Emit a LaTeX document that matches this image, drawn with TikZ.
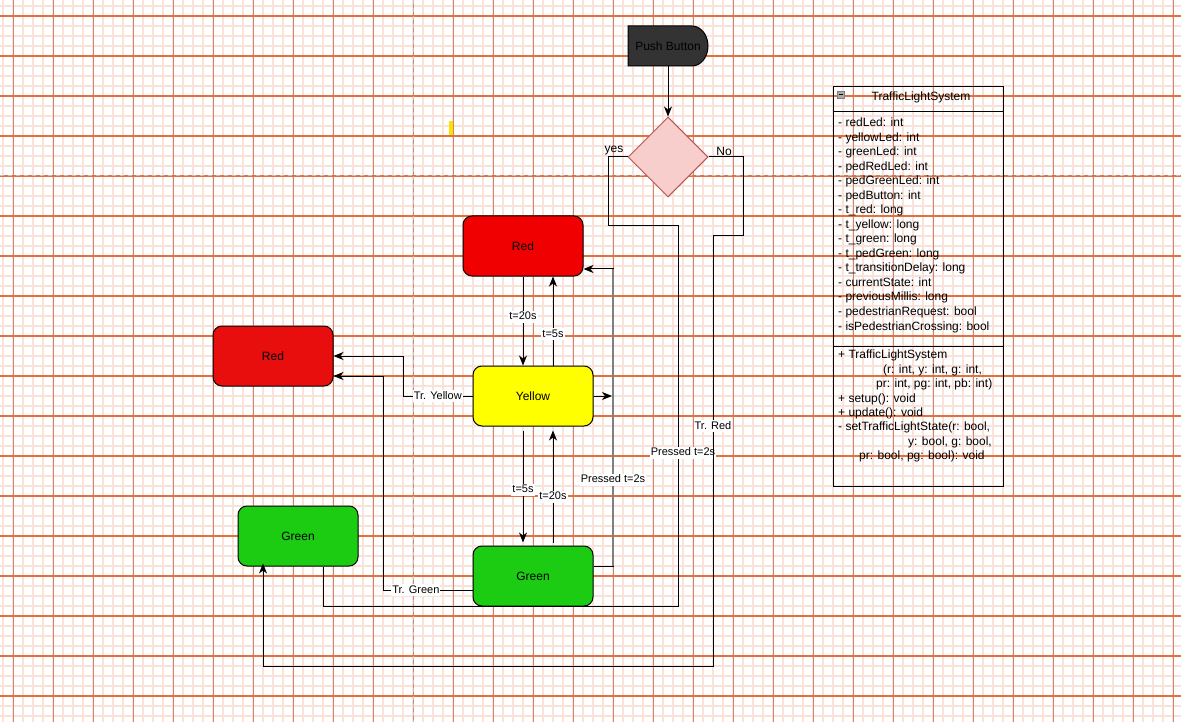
\documentclass[tikz,border=0pt]{standalone}
\usepackage{fontspec}
\setmainfont{Liberation Sans}
\usetikzlibrary{arrows.meta,shapes.geometric,calc}

\definecolor{gridminor}{RGB}{249,226,218}
\definecolor{gridmajorv}{RGB}{208,135,112}
\definecolor{gridmajorh}{RGB}{230,112,60}
\definecolor{pagebreak}{RGB}{190,190,190}
\definecolor{redA}{RGB}{240,0,0}
\definecolor{redB}{RGB}{232,14,14}
\definecolor{yellowA}{RGB}{255,255,0}
\definecolor{greenA}{RGB}{27,204,19}
\definecolor{pushfill}{RGB}{51,51,51}
\definecolor{decfill}{RGB}{248,206,204}
\definecolor{decline}{RGB}{184,84,80}
\definecolor{markyellow}{RGB}{255,224,0}
\definecolor{pressline}{RGB}{128,128,128}
\definecolor{iconfill}{RGB}{170,170,170}

\begin{document}
\begin{tikzpicture}[x=1pt,y=-1pt,
  font=\fontsize{12}{14}\selectfont,
  state/.style={draw=black, line width=1pt, rounded corners=9pt,
    minimum width=120pt, minimum height=60pt, inner sep=0pt},
  wire/.style={draw=black, line width=1pt},
  arr/.style={wire, -{Stealth[length=10pt,width=8pt,inset=3pt]}},
  elabel/.style={fill=white, text=black, inner sep=1pt, text height=8pt, text depth=2pt,
    font=\fontsize{11}{13}\selectfont},
  member/.style={anchor=west, inner sep=0pt, text height=9pt, text depth=3pt},
]

% paper background with grid and page breaks
\useasboundingbox (0,0) rectangle (1181,722);
\fill[white] (0,0) rectangle (1181,722);
\foreach \x in {3,13,...,1181} \draw[gridminor, line width=1.8pt] (\x,0) -- (\x,722);
\foreach \y in {6,16,...,722} \draw[gridminor, line width=1.8pt] (0,\y) -- (1181,\y);
\foreach \x in {13,53,...,1181} \draw[gridmajorv, line width=1pt] (\x,0) -- (\x,722);
\foreach \y in {16,56,...,722} \draw[gridmajorh, line width=1.15pt] (0,\y) -- (1181,\y);
\draw[pagebreak, line width=1pt, dash pattern=on 4pt off 4pt] (0,176) -- (1181,176);
\draw[pagebreak, line width=1pt, dash pattern=on 4pt off 4pt] (413,0) -- (413,722);

% small marker
\fill[markyellow] (449,121) rectangle (453,135);

% push button (delay shape)
\draw[line width=1pt, fill=pushfill] (628,26) -- (692,26)
  arc[start angle=-90, end angle=90, x radius=16, y radius=20] -- (628,66) -- cycle;
\node[minimum width=80pt, minimum height=40pt, inner sep=0pt] (pb) at (668,46) {Push Button};

% decision
\node[diamond, aspect=1, draw=decline, fill=decfill, line width=1pt,
  minimum width=80pt, minimum height=80pt, inner sep=0pt] (dec) at (668,157) {};

% states
\node[state, fill=redA] (rt) at (523,246) {Red};
\node[state, fill=yellowA] (ye) at (533,396) {Yellow};
\node[state, fill=greenA] (gc) at (533,576) {Green};
\node[state, fill=redB] (rl) at (273,356) {Red};
\node[state, fill=greenA] (gl) at (298,536) {Green};

% button to decision
\draw[arr] (pb.south) -- (dec.north);

% decision branches
\draw[wire] (dec.west) -- (608,157) -- (608,226) -- (678,226)
  -- (678,606) node[elabel, pos=0.597, xshift=5pt] {Pressed t=2s}
  -- (323,606) -- ($(gl.south)+(25,0)$);
\draw[arr, shorten >=-3pt] (dec.east) -- (743,157) -- (743,236) -- (713,236)
  -- (713,666) node[elabel, pos=0.442] {Tr. Red}
  -- (263,666) -- ($(gl.south)+(-35,0)$);
\node[inner sep=0pt] (yeslbl) at (614,151) {yes};
\node[inner sep=0pt] (nolbl) at (724,151) {No};

% cycle between the main states
\draw[arr] (rt.south) -- (rt.south |- ye.north) node[elabel, pos=0.45] {t=20s};
\draw[arr] ($(ye.north)+(20,0)$) -- ($(rt.south)+(30,0)$) node[elabel, pos=0.35] {t=5s};
\draw[arr, shorten <=4pt, shorten >=3pt] ($(ye.south)+(-10,0)$) -- ($(gc.north)+(-10,0)$)
  node[elabel, pos=0.53] {t=5s};
\draw[arr, shorten <=3pt, shorten >=4pt] ($(gc.north)+(20,0)$) -- ($(ye.south)+(20,0)$)
  node[elabel, pos=0.41] {t=20s};

% pedestrian request from green back to red
\draw[arr] ($(gc.east)+(0,-10)$) -- (613,566) coordinate (pr1)
  -- (613,269) coordinate (pr2) -- ($(rt.east)+(0,23)$);
\coordinate (ytip) at (612,396);
\draw[arr] (ye.east) -- (ytip);
\draw[pressline, line width=2.6pt] (pr1) -- (pr2) node[elabel, pos=0.29] {Pressed t=2s};

% transitions into the side states
\draw[arr] (ye.west) -- (403,396) node[elabel, pos=0.5] {Tr. Yellow}
  -- (403,356) -- (rl.east);
\draw[arr] ($(gc.west)+(0,14)$) -- (383,590) node[elabel, pos=0.633] {Tr. Green}
  -- (383,376) -- ($(rl.east)+(0,20)$);

% class box
\node[draw, line width=1pt, minimum width=170pt, minimum height=400pt, inner sep=0pt,
  anchor=north west] (cls) at (833,86) {};
\draw[line width=1pt] ($(cls.north west)+(0,26)$) -- ($(cls.north east)+(0,26)$);
\draw[line width=1pt] ($(cls.north west)+(0,260)$) -- ($(cls.north east)+(0,260)$);
\draw[draw=gray, fill=iconfill, line width=0.6pt] (837,91) rectangle (844,98);
\draw[black, line width=0.8pt] (838.5,94.5) -- (842.5,94.5);
\node[inner sep=0pt] (clstitle) at (921,97) {TrafficLightSystem};

\foreach \t [count=\i from 0] in {
  {- redLed: int}, {- yellowLed: int}, {- greenLed: int}, {- pedRedLed: int},
  {- pedGreenLed: int}, {- pedButton: int}, {- t\_red: long}, {- t\_yellow: long},
  {- t\_green: long}, {- t\_pedGreen: long}, {- t\_transitionDelay: long},
  {- currentState: int}, {- previousMillis: long}, {- pedestrianRequest: bool},
  {- isPedestrianCrossing: bool}}
  \node[member] (attr\i) at (838,{124+14.5*\i}) {\t};

\node[member] (m1) at (838,355) {+ TrafficLightSystem};
\node[member] (m2) at (883,370) {(r: int, y: int, g: int,};
\node[member] (m3) at (876,384) {pr: int, pg: int, pb: int)};
\node[member] (m4) at (838,399) {+ setup(): void};
\node[member] (m5) at (838,413) {+ update(): void};
\node[member] (m6) at (838,427) {- setTrafficLightState(r: bool,};
\node[member] (m7) at (908,442) {y: bool, g: bool,};
\node[member] (m8) at (859,456) {pr: bool, pg: bool): void};

\end{tikzpicture}
\end{document}
